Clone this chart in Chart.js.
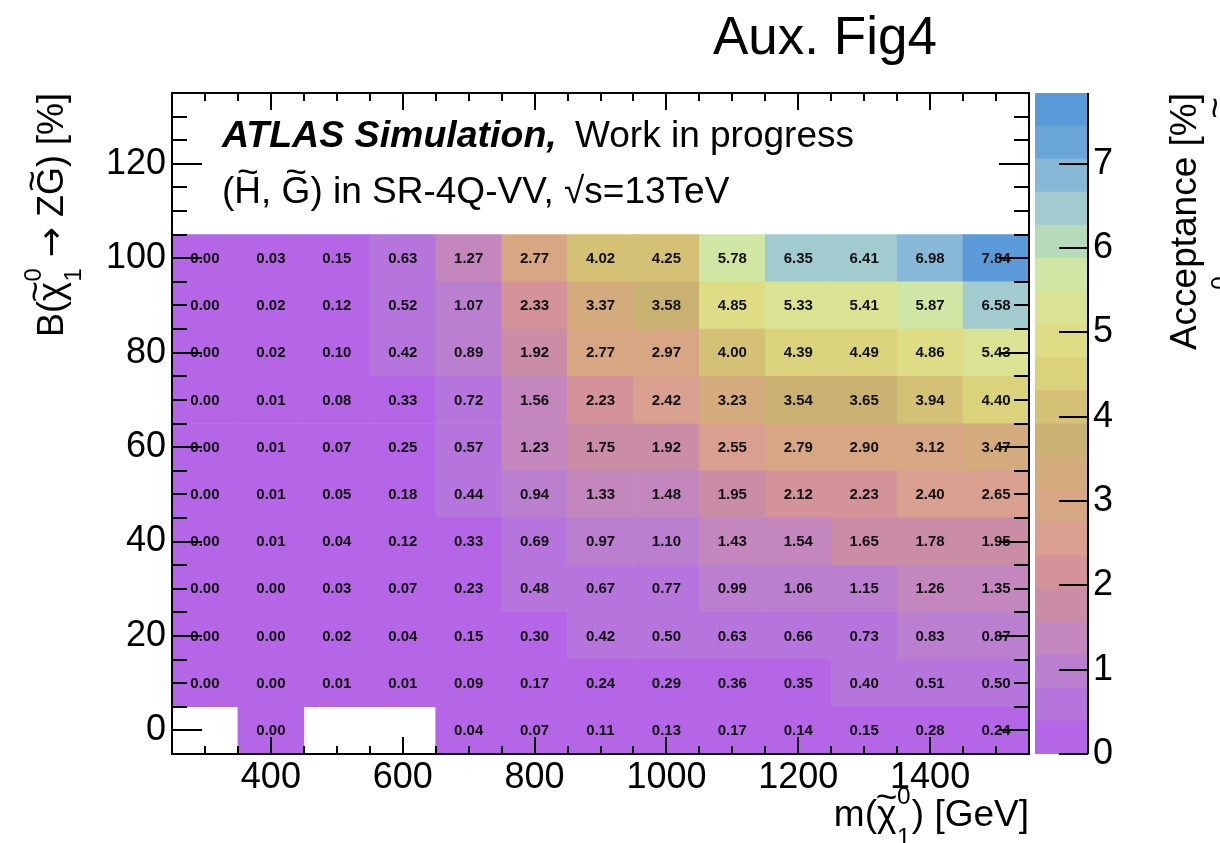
<!DOCTYPE html>
<html>
<head>
<meta charset="utf-8">
<title>Aux. Fig4</title>
<script src="https://cdn.jsdelivr.net/npm/chart.js@4.4.1/dist/chart.umd.min.js"></script>
<style>
  html, body { margin: 0; padding: 0; background: #fff; }
  #wrap { position: relative; width: 1220px; height: 843px; overflow: hidden; }
  #wrap canvas { position: absolute; left: 0; top: 0; }
</style>
</head>
<body>
<div id="wrap">
  <canvas id="main" width="1220" height="843"></canvas>
  <canvas id="zbar" width="1220" height="843"></canvas>
</div>
<script>
const FONT = "'Liberation Sans', Arial, Helvetica, sans-serif";
const SYMBOL_FONT = "'DejaVu Sans', 'Liberation Sans', sans-serif";

// neutralino mass bin centres [GeV] and branching-ratio bin centres [%]
const massValues = [300, 400, 500, 600, 700, 800, 900, 1000, 1100, 1200, 1300, 1400, 1500];
const brValues = [0, 10, 20, 30, 40, 50, 60, 70, 80, 90, 100];

// acceptance [%] per branching-ratio row (null = no signal point)
const accBR0   = [null, 0.00, null, null, 0.04, 0.07, 0.11, 0.13, 0.17, 0.14, 0.15, 0.28, 0.24];
const accBR10  = [0.00, 0.00, 0.01, 0.01, 0.09, 0.17, 0.24, 0.29, 0.36, 0.35, 0.40, 0.51, 0.50];
const accBR20  = [0.00, 0.00, 0.02, 0.04, 0.15, 0.30, 0.42, 0.50, 0.63, 0.66, 0.73, 0.83, 0.87];
const accBR30  = [0.00, 0.00, 0.03, 0.07, 0.23, 0.48, 0.67, 0.77, 0.99, 1.06, 1.15, 1.26, 1.35];
const accBR40  = [0.00, 0.01, 0.04, 0.12, 0.33, 0.69, 0.97, 1.10, 1.43, 1.54, 1.65, 1.78, 1.95];
const accBR50  = [0.00, 0.01, 0.05, 0.18, 0.44, 0.94, 1.33, 1.48, 1.95, 2.12, 2.23, 2.40, 2.65];
const accBR60  = [0.00, 0.01, 0.07, 0.25, 0.57, 1.23, 1.75, 1.92, 2.55, 2.79, 2.90, 3.12, 3.47];
const accBR70  = [0.00, 0.01, 0.08, 0.33, 0.72, 1.56, 2.23, 2.42, 3.23, 3.54, 3.65, 3.94, 4.40];
const accBR80  = [0.00, 0.02, 0.10, 0.42, 0.89, 1.92, 2.77, 2.97, 4.00, 4.39, 4.49, 4.86, 5.43];
const accBR90  = [0.00, 0.02, 0.12, 0.52, 1.07, 2.33, 3.37, 3.58, 4.85, 5.33, 5.41, 5.87, 6.58];
const accBR100 = [0.00, 0.03, 0.15, 0.63, 1.27, 2.77, 4.02, 4.25, 5.78, 6.35, 6.41, 6.98, 7.84];

const accRows = [accBR0, accBR10, accBR20, accBR30, accBR40, accBR50, accBR60, accBR70, accBR80, accBR90, accBR100];

// axis ticks
const xTickValues = [400, 600, 800, 1000, 1200, 1400];
const yTickValues = [0, 20, 40, 60, 80, 100, 120];
const zTickValues = [0, 1, 2, 3, 4, 5, 6, 7];

// axis ranges / binning
const xRange = [250, 1550];
const yRange = [-5, 135];
const brBinWidth = 10;
const zMax = 7.84;

// 20-level colour palette, low to high
const zPalette = [
  '#b466e6', '#b674dd', '#bb7fcf', '#c386bd', '#cb8ca6',
  '#d39399', '#d99f8f', '#d7a683', '#d3ab7d', '#c9b172',
  '#d4c176', '#dbd27c', '#dedd86', '#d9e393', '#d0e6a4',
  '#b6dbbb', '#a2cbd0', '#87b8d8', '#6aa6d8', '#5a9ad9'
];
const zStep = zMax / zPalette.length;

function colourFor(v) {
  const i = Math.min(zPalette.length - 1, Math.max(0, Math.floor(v / zStep)));
  return zPalette[i];
}

// ---------- rich text helpers (tilde accents, stacked sub/superscripts) ----------
function partFont(p, size) {
  return `${p.style || ''} ${size}px ${p.font || FONT}`;
}

function richWidth(ctx, parts, size) {
  let w = 0;
  for (const p of parts) {
    if (p.ss) {
      ctx.font = `${size * 0.66}px ${FONT}`;
      w += Math.max(ctx.measureText(p.sup).width, ctx.measureText(p.sub).width) + size * 0.05;
    } else {
      ctx.font = partFont(p, size);
      w += ctx.measureText(p.t).width;
    }
  }
  return w;
}

function drawRich(ctx, parts, size, x, y) {
  let cx = x;
  ctx.textAlign = 'left';
  ctx.textBaseline = 'alphabetic';
  for (const p of parts) {
    if (p.ss) {
      ctx.font = `${size * 0.66}px ${FONT}`;
      ctx.fillText(p.sup, cx + size * 0.02, y - size * 0.6);
      ctx.fillText(p.sub, cx + size * 0.02, y + size * 0.5);
      cx += Math.max(ctx.measureText(p.sup).width, ctx.measureText(p.sub).width) + size * 0.05;
    } else {
      ctx.font = partFont(p, size);
      ctx.fillText(p.t, cx, y);
      const w = ctx.measureText(p.t).width;
      if (p.tilde) {
        const lift = p.tilde === 'cap' ? 0.52 : 0.45;
        ctx.font = `${size}px ${FONT}`;
        ctx.textAlign = 'center';
        ctx.fillText('~', cx + w / 2, y - size * lift);
        ctx.textAlign = 'left';
      }
      cx += w;
    }
  }
  return cx - x;
}

const yTitleParts = [
  { t: 'B(' }, { t: 'χ', tilde: 'low' }, { ss: true, sup: '0', sub: '1' },
  { t: ' ' }, { t: '→', font: SYMBOL_FONT }, { t: ' Z' }, { t: 'G', tilde: 'cap' }, { t: ') [%]' }
];
const xTitleParts = [
  { t: 'm(' }, { t: 'χ', tilde: 'low' }, { ss: true, sup: '0', sub: '1' }, { t: ') [GeV]' }
];
const procParts = [
  { t: '(' }, { t: 'H', tilde: 'cap' }, { t: ', ' }, { t: 'G', tilde: 'cap' },
  { t: ') in SR-4Q-VV, √s=13TeV' }
];

// ---------- main histogram ----------
const cellDatasets = accRows.map((row, r) => ({
  label: 'B = ' + brValues[r] + '%',
  data: massValues
    .map((m, i) => row[i] === null ? null : { x: m, y: [brValues[r] - brBinWidth / 2, brValues[r] + brBinWidth / 2], v: row[i] })
    .filter(d => d !== null),
  backgroundColor: ctx => colourFor(ctx.raw.v),
  borderWidth: 0
}));

const cellLabels = {
  id: 'cellLabels',
  afterDatasetsDraw(chart) {
    const ctx = chart.ctx;
    ctx.save();
    ctx.fillStyle = '#111';
    ctx.font = `bold 15px ${FONT}`;
    ctx.textAlign = 'center';
    ctx.textBaseline = 'middle';
    chart.data.datasets.forEach((ds, di) => {
      const meta = chart.getDatasetMeta(di);
      meta.data.forEach((el, j) => {
        const c = el.getCenterPoint();
        ctx.fillText(ds.data[j].v.toFixed(2), c.x, c.y + 0.5);
      });
    });
    ctx.restore();
  }
};

const frameAndTicks = {
  id: 'frameAndTicks',
  afterDatasetsDraw(chart) {
    const { ctx, chartArea: a, scales: { x, y } } = chart;
    ctx.save();
    ctx.strokeStyle = '#000';
    ctx.lineWidth = 2;
    ctx.beginPath();
    // mass axis: minor every 50 GeV, major at labelled values
    for (let v = xRange[0] + 50; v < xRange[1]; v += 50) {
      const px = Math.round(x.getPixelForValue(v));
      const len = xTickValues.includes(v) ? 17 : 8;
      ctx.moveTo(px, a.bottom); ctx.lineTo(px, a.bottom - len);
      ctx.moveTo(px, a.top); ctx.lineTo(px, a.top + len);
    }
    // branching-ratio axis: minor every 5 %, major at labelled values
    for (let v = yRange[0] + 5; v < yRange[1]; v += 5) {
      const py = Math.round(y.getPixelForValue(v));
      const len = yTickValues.includes(v) ? 30 : 15;
      ctx.moveTo(a.left, py); ctx.lineTo(a.left + len, py);
      ctx.moveTo(a.right, py); ctx.lineTo(a.right - len, py);
    }
    ctx.stroke();
    ctx.strokeRect(a.left, a.top, a.right - a.left, a.bottom - a.top);
    ctx.restore();
  }
};

const texts = {
  id: 'texts',
  afterDraw(chart) {
    const { ctx, chartArea: a } = chart;
    ctx.save();
    ctx.fillStyle = '#000';

    // figure label
    ctx.font = `53px ${FONT}`;
    ctx.textAlign = 'left';
    ctx.textBaseline = 'alphabetic';
    ctx.fillText('Aux. Fig4', 713, 54);

    // ATLAS label
    ctx.font = `italic bold 37.5px ${FONT}`;
    ctx.fillText('ATLAS Simulation,', 222, 147);
    ctx.font = `37px ${FONT}`;
    ctx.fillText('Work in progress', 575, 147);
    drawRich(ctx, procParts, 37, 222, 203);

    // y-axis title (rotated, right-aligned at the top of the frame)
    const yw = richWidth(ctx, yTitleParts, 36);
    ctx.save();
    ctx.translate(63, a.top);
    ctx.rotate(-Math.PI / 2);
    drawRich(ctx, yTitleParts, 36, -yw, 0);
    ctx.restore();

    // x-axis title (right-aligned at the end of the frame)
    const xw = richWidth(ctx, xTitleParts, 37);
    drawRich(ctx, xTitleParts, 37, a.right - xw, 826);

    // z-axis title
    ctx.save();
    ctx.font = `37px ${FONT}`;
    ctx.translate(1196, a.top);
    ctx.rotate(-Math.PI / 2);
    ctx.textAlign = 'right';
    ctx.fillText('Acceptance [%]', 0, 0);
    ctx.restore();

    // edge of the neighbouring panel's axis title
    ctx.save();
    ctx.font = `37px ${FONT}`;
    ctx.translate(1217, 108);
    ctx.rotate(-Math.PI / 2);
    ctx.textAlign = 'center';
    ctx.textBaseline = 'middle';
    ctx.fillText('~', 0, 0);
    ctx.restore();
    ctx.save();
    ctx.font = `24px ${FONT}`;
    ctx.translate(1221, 283);
    ctx.rotate(-Math.PI / 2);
    ctx.textAlign = 'center';
    ctx.textBaseline = 'middle';
    ctx.fillText('0', 0, 0);
    ctx.restore();

    ctx.restore();
  }
};

new Chart(document.getElementById('main'), {
  type: 'bar',
  data: { datasets: cellDatasets },
  options: {
    responsive: false,
    animation: false,
    events: [],
    layout: { padding: { left: 0, right: 191, top: 93, bottom: 0 } },
    datasets: { bar: { grouped: false, categoryPercentage: 1, barPercentage: 1 } },
    plugins: { legend: { display: false }, tooltip: { enabled: false }, title: { display: false } },
    scales: {
      x: {
        type: 'linear', min: xRange[0], max: xRange[1], offset: false,
        grid: { display: false, drawTicks: false }, border: { display: false },
        afterBuildTicks: s => { s.ticks = xTickValues.map(v => ({ value: v })); },
        afterFit: s => { s.height = 89; },
        ticks: { autoSkip: false, maxRotation: 0, minRotation: 0, padding: 2, color: '#000',
                 font: { family: FONT, size: 36 }, callback: v => String(v) }
      },
      y: {
        type: 'linear', min: yRange[0], max: yRange[1],
        grid: { display: false, drawTicks: false }, border: { display: false },
        afterBuildTicks: s => { s.ticks = yTickValues.map(v => ({ value: v })); },
        afterFit: s => { s.width = 172; },
        ticks: { autoSkip: false, padding: 6, color: '#000',
                 font: { family: FONT, size: 36 }, callback: v => String(v) }
      }
    }
  },
  plugins: [cellLabels, frameAndTicks, texts]
});

// ---------- colour scale ----------
const zDatasets = zPalette.map((c, i) => ({
  label: 'level ' + i,
  data: [[i * zStep, (i + 1) * zStep]],
  backgroundColor: c,
  borderWidth: 0
}));

const zAxisDecor = {
  id: 'zAxisDecor',
  afterDatasetsDraw(chart) {
    const { ctx, chartArea: a, scales: { y } } = chart;
    ctx.save();
    ctx.strokeStyle = '#000';
    ctx.lineWidth = 2;
    ctx.beginPath();
    ctx.moveTo(a.right, a.top); ctx.lineTo(a.right, a.bottom);
    zTickValues.forEach(v => {
      const py = Math.round(y.getPixelForValue(v));
      ctx.moveTo(a.right, py); ctx.lineTo(a.right - 29, py);
    });
    ctx.stroke();
    ctx.restore();
  }
};

new Chart(document.getElementById('zbar'), {
  type: 'bar',
  data: { labels: ['acc'], datasets: zDatasets },
  options: {
    responsive: false,
    animation: false,
    events: [],
    layout: { padding: { left: 1035, right: 0, top: 93, bottom: 89 } },
    datasets: { bar: { grouped: false, categoryPercentage: 1, barPercentage: 1 } },
    plugins: { legend: { display: false }, tooltip: { enabled: false } },
    scales: {
      x: { display: false, offset: true },
      y: {
        type: 'linear', position: 'right', min: 0, max: zMax,
        grid: { display: false, drawTicks: false }, border: { display: false },
        afterBuildTicks: s => { s.ticks = zTickValues.map(v => ({ value: v })); },
        afterFit: s => { s.width = 132; },
        ticks: { autoSkip: false, padding: 5, color: '#000',
                 font: { family: FONT, size: 36 }, callback: v => String(v) }
      }
    }
  },
  plugins: [zAxisDecor]
});
</script>
</body>
</html>
